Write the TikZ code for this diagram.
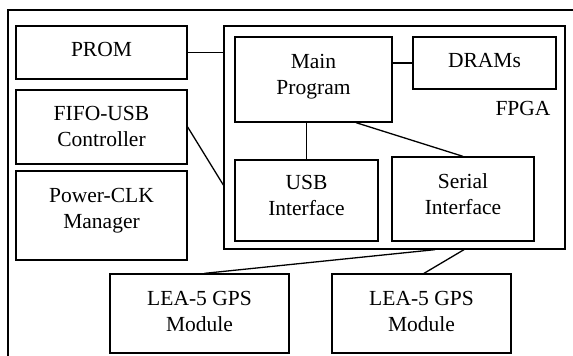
\documentclass[tikz,border=0pt]{standalone}
\usepackage{fontspec}
\setmainfont{Liberation Serif}
\begin{document}
\begin{tikzpicture}[x=1pt,y=-1pt,line width=1.3pt,
  blk/.style={draw,rectangle,inner sep=0pt,align=center,
    font=\fontsize{21.5}{26}\selectfont},
  lbl/.style={inner sep=0pt,font=\fontsize{21.5}{26}\selectfont}]
\clip (0,0) rectangle (573,356);
% 外框
\draw (8,10) rectangle (590,380);
% 左侧外设
\node[blk,minimum width=171pt,minimum height=53pt,text depth=7pt] (prom) at (101.5,52.5) {PROM};
\node[blk,minimum width=171pt,minimum height=74pt,text depth=2pt] (fifo) at (101.5,127) {FIFO-USB\\Controller};
\node[blk,minimum width=171pt,minimum height=89pt,text depth=14pt] (power) at (101.5,215.5) {Power-CLK\\Manager};
% FPGA 及其内部模块
\node[blk,minimum width=341pt,minimum height=223pt] (fpga) at (394.5,137.5) {};
\node[lbl] (fpgatxt) at (523,108) {FPGA};
\node[blk,minimum width=157pt,minimum height=85pt,text depth=11pt] (main) at (313.5,79.5) {Main\\Program};
\node[blk,minimum width=143pt,minimum height=52pt,text depth=6pt] (dram) at (484.5,63) {DRAMs};
\node[blk,minimum width=143pt,minimum height=81pt,text depth=11pt] (usb) at (306.5,200.5) {USB\\Interface};
\node[blk,minimum width=142pt,minimum height=84pt,text depth=9pt] (serial) at (463,199) {Serial\\Interface};
% GPS 模块
\node[blk,minimum width=179pt,minimum height=79pt,text depth=5pt] (gps1) at (199.5,313.5) {LEA-5 GPS\\Module};
\node[blk,minimum width=179pt,minimum height=79pt,text depth=5pt] (gps2) at (421.5,313.5) {LEA-5 GPS\\Module};
% 连线
\draw (prom.east) -- (prom.east -| fpga.west);
\draw (dram.west) -- (dram.west -| main.east);
\draw (usb.north) -- (usb.north |- main.south);
\draw ([xshift=42.5pt]main.south) -- (serial.north);
\draw (fifo.east) -- ([yshift=-47.5pt]fpga.west);
\draw ([xshift=5pt]gps1.north) -- ([xshift=40.5pt]fpga.south);
\draw ([xshift=2.5pt]gps2.north) -- ([xshift=69.5pt]fpga.south);
\end{tikzpicture}
\end{document}
